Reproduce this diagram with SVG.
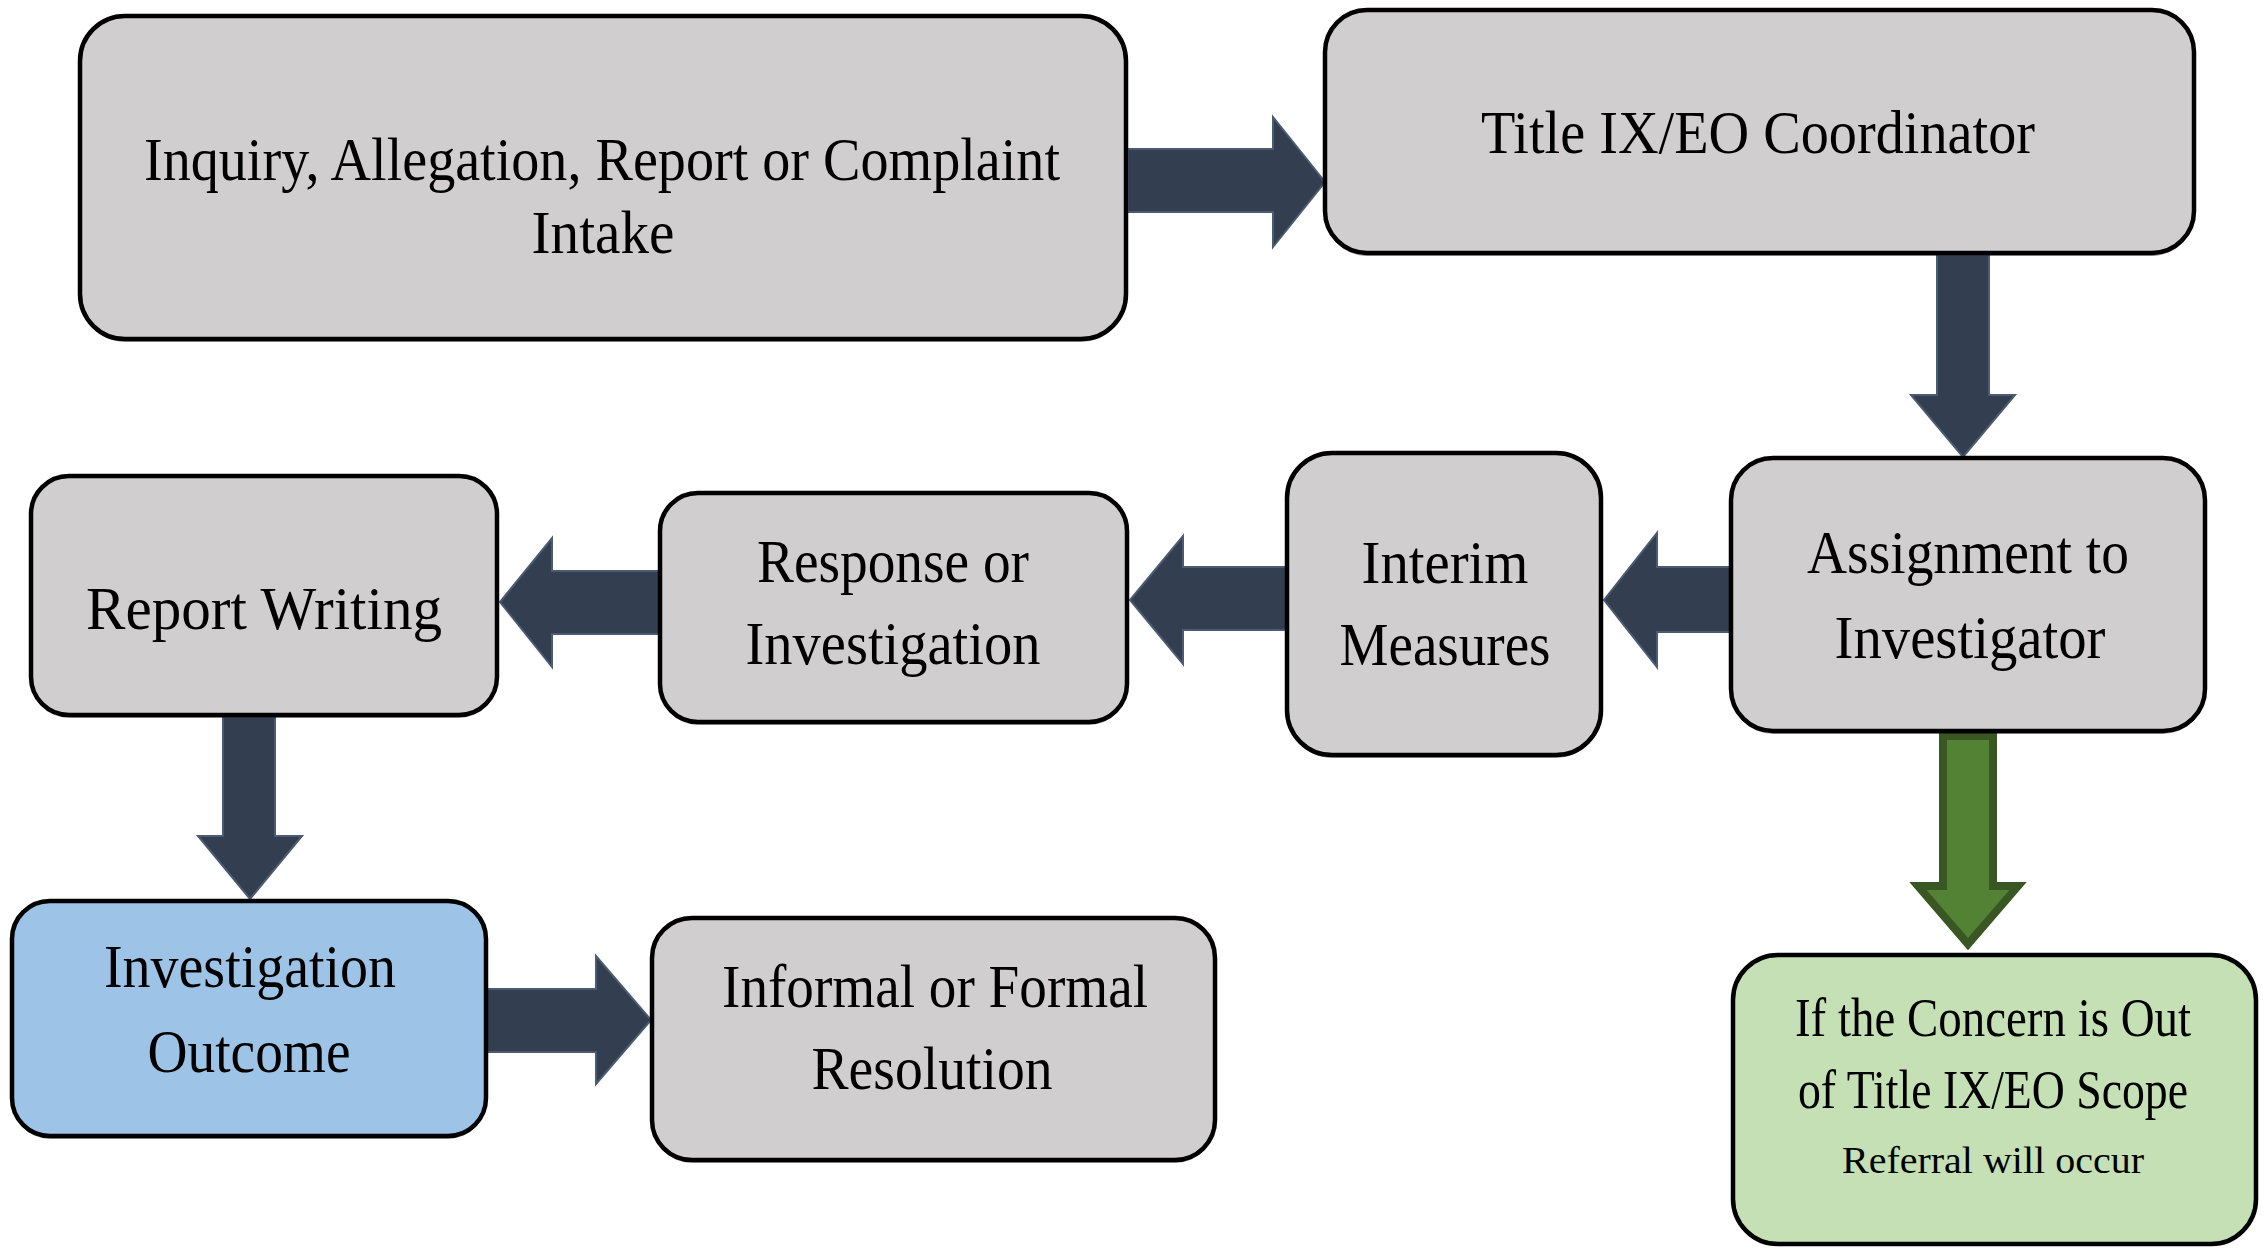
<svg xmlns="http://www.w3.org/2000/svg" width="2267" height="1249" viewBox="0 0 2267 1249">
<style>
  .box{stroke:#000;stroke-width:4.5}
  .gray{fill:#D0CECE}
  .blue{fill:#9DC3E6}
  .green{fill:#C5E0B4}
  .sh{fill:#000;opacity:0.35}
  .arr{fill:#333F50;stroke:#4B5B72;stroke-width:2;stroke-linejoin:miter}
  .garr{fill:#548235;stroke:#385723;stroke-width:8;stroke-linejoin:miter}
  text{font-family:"Liberation Serif","DejaVu Serif",serif;fill:#000;text-anchor:middle}
  .t{font-size:62px}
  .g{font-size:54px}
  .s{font-size:38px}
</style>
<rect width="2267" height="1249" fill="#fff"/>

<g id="connectors">
  <path class="arr" d="M1128,149 L1273,149 L1273,117 L1325,182 L1273,247 L1273,212 L1128,212 Z"/>
  <path class="arr" d="M1937,255 L1989,255 L1989,395 L2015,395 L1963,457 L1911,395 L1937,395 Z"/>
  <path class="arr" d="M1731,567 L1657,567 L1657,533 L1604,600 L1657,667 L1657,632 L1731,632 Z"/>
  <path class="arr" d="M1287,567 L1183,567 L1183,536 L1130,600 L1183,664 L1183,630 L1287,630 Z"/>
  <path class="arr" d="M660,571 L552,571 L552,538 L500,602 L552,667 L552,634 L660,634 Z"/>
  <path class="arr" d="M223,717 L275,717 L275,836 L302,836 L250,899 L198,836 L223,836 Z"/>
  <path class="arr" d="M486,989 L596,989 L596,956 L651,1020 L596,1084 L596,1052 L486,1052 Z"/>
  <path class="garr" d="M1943,736 L1993,736 L1993,886 L2018,886 L1968,944 L1918,886 L1943,886 Z"/>
</g>

<g id="node-intake">
  <rect class="sh" x="80" y="19" width="1046" height="323" rx="45"/>
  <rect class="box gray" x="80" y="16" width="1046" height="323" rx="45"/>
  <text class="t" x="602" y="180" textLength="916" lengthAdjust="spacingAndGlyphs">Inquiry, Allegation, Report or Complaint</text>
  <text class="t" x="603" y="253" textLength="143" lengthAdjust="spacingAndGlyphs">Intake</text>
</g>

<g id="node-coordinator">
  <rect class="sh" x="1325" y="13" width="869" height="243" rx="42"/>
  <rect class="box gray" x="1325" y="10" width="869" height="243" rx="42"/>
  <text class="t" x="1758" y="153" textLength="554" lengthAdjust="spacingAndGlyphs">Title IX/EO Coordinator</text>
</g>

<g id="node-assignment">
  <rect class="sh" x="1731" y="461" width="474" height="273" rx="42"/>
  <rect class="box gray" x="1731" y="458" width="474" height="273" rx="42"/>
  <text class="t" x="1968" y="573" textLength="322" lengthAdjust="spacingAndGlyphs">Assignment to</text>
  <text class="t" x="1970" y="658" textLength="271" lengthAdjust="spacingAndGlyphs">Investigator</text>
</g>

<g id="node-interim">
  <rect class="sh" x="1287" y="456" width="314" height="302" rx="45"/>
  <rect class="box gray" x="1287" y="453" width="314" height="302" rx="45"/>
  <text class="t" x="1445" y="583" textLength="167" lengthAdjust="spacingAndGlyphs">Interim</text>
  <text class="t" x="1445" y="665" textLength="211" lengthAdjust="spacingAndGlyphs">Measures</text>
</g>

<g id="node-response">
  <rect class="sh" x="660" y="496" width="467" height="229" rx="38"/>
  <rect class="box gray" x="660" y="493" width="467" height="229" rx="38"/>
  <text class="t" x="893" y="582" textLength="272" lengthAdjust="spacingAndGlyphs">Response or</text>
  <text class="t" x="893" y="664" textLength="295" lengthAdjust="spacingAndGlyphs">Investigation</text>
</g>

<g id="node-report">
  <rect class="sh" x="31" y="479" width="466" height="239" rx="38"/>
  <rect class="box gray" x="31" y="476" width="466" height="239" rx="38"/>
  <text class="t" x="264" y="629" textLength="356" lengthAdjust="spacingAndGlyphs">Report Writing</text>
</g>

<g id="node-outcome">
  <rect class="sh" x="12" y="904" width="474" height="235" rx="38"/>
  <rect class="box blue" x="12" y="901" width="474" height="235" rx="38"/>
  <text class="t" x="250" y="987" textLength="292" lengthAdjust="spacingAndGlyphs">Investigation</text>
  <text class="t" x="249" y="1072" textLength="203" lengthAdjust="spacingAndGlyphs">Outcome</text>
</g>

<g id="node-resolution">
  <rect class="sh" x="652" y="921" width="563" height="242" rx="40"/>
  <rect class="box gray" x="652" y="918" width="563" height="242" rx="40"/>
  <text class="t" x="935" y="1007" textLength="426" lengthAdjust="spacingAndGlyphs">Informal or Formal</text>
  <text class="t" x="932" y="1089" textLength="241" lengthAdjust="spacingAndGlyphs">Resolution</text>
</g>

<g id="node-referral">
  <rect class="box green" x="1733" y="955" width="523" height="289" rx="45"/>
  <text class="g" x="1993" y="1036" textLength="396" lengthAdjust="spacingAndGlyphs">If the Concern is Out</text>
  <text class="g" x="1993" y="1108" textLength="390" lengthAdjust="spacingAndGlyphs">of Title IX/EO Scope</text>
  <text class="s" x="1993" y="1173" textLength="302" lengthAdjust="spacingAndGlyphs">Referral will occur</text>
</g>
</svg>
